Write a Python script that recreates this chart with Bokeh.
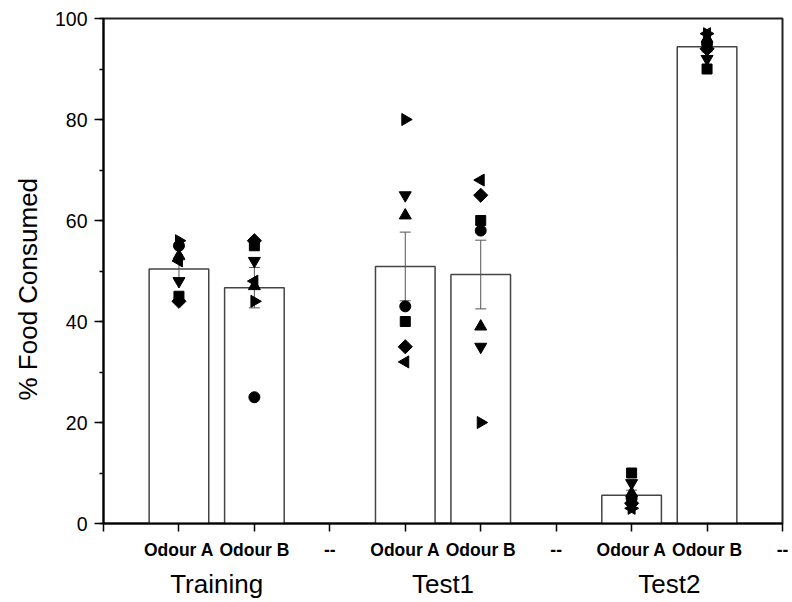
import numpy as np
from bokeh.plotting import figure
from bokeh.models import FixedTicker, SingleIntervalTicker, LinearAxis, Range1d, Title
from bokeh.embed import file_html
from bokeh.resources import INLINE

# ---- data ----
groups = ["Training", "Test1", "Test2"]
odours = ["Odour A", "Odour B"]
spacer_label = "--"
y_title = "% Food Consumed"

bar_means = [50.4, 46.7, 50.9, 49.3, 5.6, 94.4]
bar_sems = [1.8, 4.0, 6.8, 6.8, 1.0, 1.0]

circle_vals = [55, 25, 43, 58, 5, 95]
square_vals = [45, 55, 40, 60, 10, 90]
tri_up_vals = [53, 47, 61, 39, 6, 96]
tri_down_vals = [48, 52, 65, 35, 8, 92]
diamond_vals = [44, 56, 35, 65, 4, 94]
tri_left_vals = [52, 48, 32, 68, 3, 97]
tri_right_vals = [56, 44, 80, 20, 3, 97]

# ---- positions ----
bar_x = [g * 3 + o + 1 for g in range(len(groups)) for o in range(len(odours))]
tick_positions = list(range(0, 10))
tick_labels = {0: ""}
for g in range(len(groups)):
    tick_labels[g * 3 + 1] = odours[0]
    tick_labels[g * 3 + 2] = odours[1]
    tick_labels[g * 3 + 3] = spacer_label
group_pos = [g * 3 + 1.5 for g in range(len(groups))]
group_labels = {group_pos[i]: groups[i] for i in range(len(groups))}

FONT = "Liberation Sans"

p = figure(
    frame_width=679, frame_height=505,
    x_range=Range1d(0, 9), y_range=Range1d(0, 100),
    output_backend="svg", toolbar_location=None,
    min_border_left=103, min_border_top=18, min_border_right=10, min_border_bottom=70,
)
p.background_fill_color = "white"
p.border_fill_color = "white"
p.xgrid.visible = False
p.ygrid.visible = False
p.outline_line_color = "#222222"
p.outline_line_width = 2

# y axis
ya = p.yaxis[0]
ya.ticker = SingleIntervalTicker(interval=20, num_minor_ticks=2)
ya.axis_line_width = 2
ya.axis_line_color = "black"
ya.major_tick_out = 9
ya.major_tick_in = 0
ya.minor_tick_out = 4
ya.minor_tick_in = 0
ya.major_tick_line_width = 1.5
ya.minor_tick_line_width = 1.5
ya.major_label_text_font = FONT
ya.major_label_text_font_size = "19.5px"
ya.major_label_text_color = "black"
ya.major_label_standoff = 7

# y title as a left-side title, anchored from the bottom of the frame
yt = Title(text=y_title, align="left", offset=123,
           text_font=FONT, text_font_size="26px", text_font_style="normal",
           text_color="black")
if "standoff" in yt.properties():
    yt.standoff = 18
p.add_layout(yt, "left")

# x axis (odour labels)
xa = p.xaxis[0]
xa.ticker = FixedTicker(ticks=tick_positions)
xa.major_label_overrides = tick_labels
xa.axis_line_width = 2
xa.axis_line_color = "black"
xa.major_tick_out = 8
xa.major_tick_in = 0
xa.major_tick_line_width = 1.5
xa.minor_tick_line_color = None
xa.major_label_text_font = FONT
xa.major_label_text_font_size = "17.5px"
xa.major_label_text_font_style = "bold"
xa.major_label_text_color = "black"
xa.major_label_standoff = 8

# group axis
ga = LinearAxis(ticker=FixedTicker(ticks=group_pos))
ga.major_label_overrides = group_labels
ga.axis_line_color = None
ga.major_tick_line_color = None
ga.minor_tick_line_color = None
ga.major_label_text_font = FONT
ga.major_label_text_font_size = "26px"
ga.major_label_text_color = "black"
ga.major_label_standoff = 0
p.add_layout(ga, "below")

# bars
p.vbar(x=bar_x, top=bar_means, bottom=0, width=0.79,
       fill_color="white", line_color="#444444", line_width=1.5)

# error bars (mean +/- SEM)
lo = [m - s for m, s in zip(bar_means, bar_sems)]
hi = [m + s for m, s in zip(bar_means, bar_sems)]
p.segment(x0=bar_x, y0=lo, x1=bar_x, y1=hi, line_color="#555555", line_width=1)
p.scatter(x=bar_x + bar_x, y=lo + hi, marker="dash", size=11,
          line_color="#555555", line_width=1)

# individual points
series = [
    (circle_vals, "circle", 0.0, 11),
    (square_vals, "square", 0.0, 10),
    (tri_up_vals, "triangle", 0.0, 12),
    (tri_down_vals, "inverted_triangle", 0.0, 12),
    (diamond_vals, "square", np.pi / 4, 10),
    (tri_left_vals, "triangle", np.pi / 2, 12),
    (tri_right_vals, "triangle", -np.pi / 2, 12),
]
for vals, marker, ang, sz in series:
    p.scatter(x=bar_x, y=vals, marker=marker, angle=ang, size=sz,
              fill_color="black", line_color="black")

open("out.html", "w").write(file_html(p, INLINE))
